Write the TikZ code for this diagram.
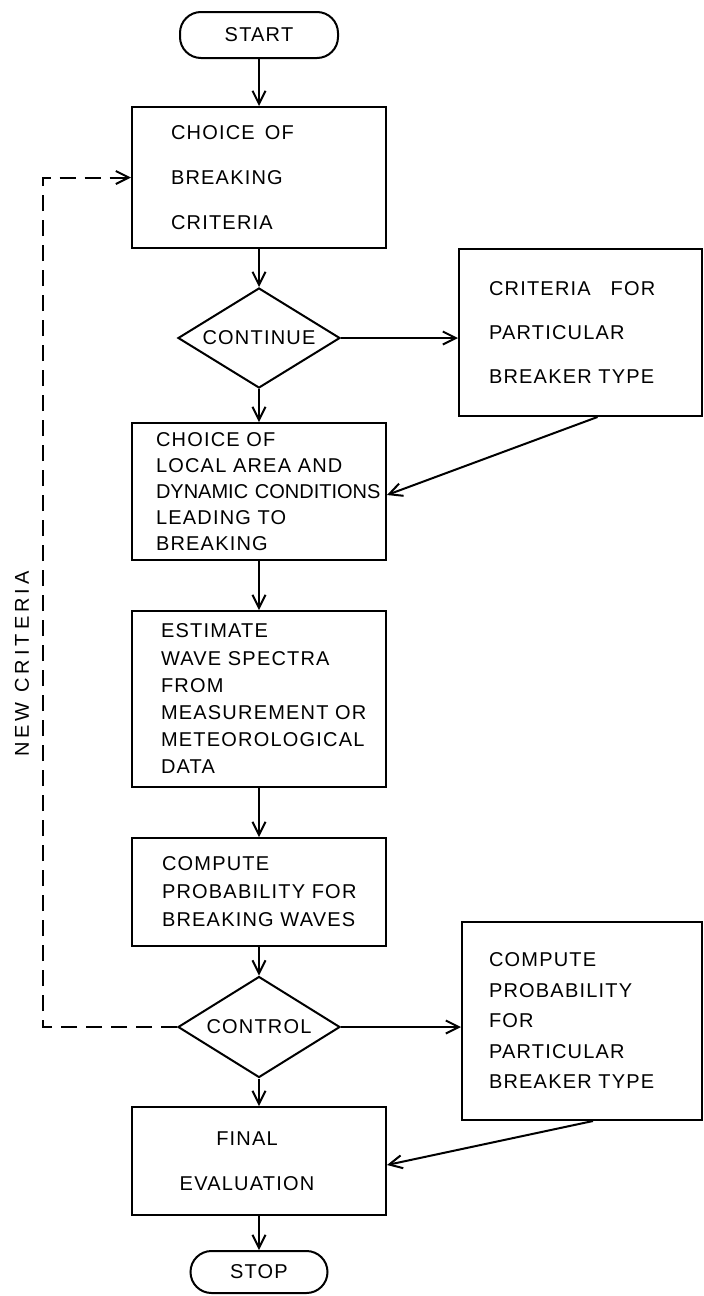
\documentclass[tikz,border=0pt]{standalone}
\usepackage{fontspec}
\setmainfont{Liberation Sans}[LetterSpace=6]
\newfontfamily\widefont{Liberation Sans}[LetterSpace=20]
\newfontfamily\tightfont{Liberation Sans}
\usetikzlibrary{arrows.meta,positioning,shapes.geometric}

\begin{document}
\begin{tikzpicture}[x=1pt,y=1pt,yscale=-1,xscale=1,
  line width=2pt,
  >={Straight Barb[length=13pt,width=13pt]},
  font=\fontsize{20}{26}\selectfont,
  leading/.style={font=\fontsize{20}{#1}\selectfont},
  flowbox/.style={draw,rectangle,align=left,inner ysep=0pt},
  terminal/.style={draw,rectangle,rounded corners=21pt,inner sep=0pt},
  decision/.style={draw,diamond,minimum width=162pt,minimum height=100pt,inner sep=0pt},
  backline/.style={dash pattern={on 16pt off 9pt}}]
\useasboundingbox (0,0) rectangle (704,1296);

%Shape: Terminal
\node [terminal,minimum width=158pt,minimum height=46pt] (start) at (259,35) {START};
%Shape: Rectangle
\node [flowbox,text width=176pt,inner xsep=39pt,minimum height=141pt,leading=45] (crit) at (259,177.5)
  {CHOICE\enspace OF\\BREAKING\\CRITERIA};
%Shape: Diamond
\node [decision] (cont) at (259,338) {\makebox[0pt]{CONTINUE}};
%Shape: Rectangle
\node [flowbox,text width=183pt,inner xsep=30pt,minimum height=167pt,leading=44] (pbt) at (580.5,332.5)
  {CRITERIA\quad FOR\\PARTICULAR\\BREAKER~TYPE};
%Shape: Rectangle
\node [flowbox,text width=206pt,inner xsep=24pt,minimum height=137pt,leading=26] (area) at (259,491.5)
  {CHOICE~OF\\LOCAL~AREA~AND\\\mbox{\tightfont DYNAMIC CONDITIONS}\\LEADING~TO\\BREAKING};
%Shape: Rectangle
\node [flowbox,text width=196pt,inner xsep=29pt,minimum height=176pt,leading=27.2] (spec) at (259,699)
  {ESTIMATE\\WAVE~SPECTRA\\FROM\\MEASUREMENT~OR\\METEOROLOGICAL\\DATA};
%Shape: Rectangle
\node [flowbox,text width=194pt,inner xsep=30pt,minimum height=108pt,leading=28] (prob) at (259,892)
  {COMPUTE\\PROBABILITY~FOR\\BREAKING~WAVES};
%Shape: Diamond
\node [decision,minimum height=101pt] (ctrl) at (259,1027) {\makebox[0pt]{CONTROL}};
%Shape: Rectangle
\node [flowbox,text width=186pt,inner xsep=27pt,minimum height=198pt,leading=30.5] (pbp) at (582,1021)
  {COMPUTE\\PROBABILITY\\FOR\\PARTICULAR\\BREAKER~TYPE};
%Shape: Rectangle
\node [flowbox,align=center,text width=230pt,inner xsep=12pt,minimum height=108pt,leading=45] (final) at (259,1161)
  {\hspace*{-24pt}FINAL\\\hspace*{-24pt}EVALUATION};
%Shape: Terminal
\node [terminal,minimum width=137pt,minimum height=42pt] (stop) at (259,1272) {STOP};

% Text Node
\node [rotate=90,font=\widefont\fontsize{20}{24}\selectfont] (newcrit) at (22,664) {NEW CRITERIA};

%Straight Lines
\draw [->] (start) -- (crit);
\draw [->] (crit) -- (cont);
\draw [->] (cont.east) -- (cont.east -| pbt.west);
\draw [->] (cont) -- (area);
\draw [->] ([xshift=17pt]pbt.south) -- ([yshift=3.5pt]area.east);
\draw [->] (area) -- (spec);
\draw [->] (spec) -- (prob);
\draw [->] (prob) -- (ctrl);
\draw [->] (ctrl.east) -- (ctrl.east -| pbp.west);
\draw [->] (ctrl) -- (final);
\draw [->] ([xshift=11pt]pbp.south) -- ([yshift=4pt]final.east);
\draw [->] (final) -- (stop);

%Dashed return line
\coordinate (back) at (43,1027);
\draw [->,backline] (ctrl.west) -- (back) |- (crit.west);

\end{tikzpicture}
\end{document}
